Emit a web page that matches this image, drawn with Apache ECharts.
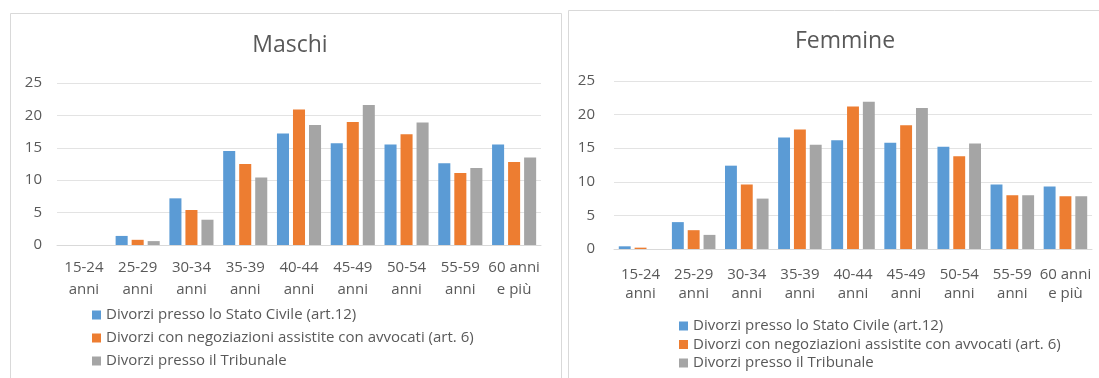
<!DOCTYPE html>
<html>
<head>
<meta charset="utf-8">
<script src="https://cdn.jsdelivr.net/npm/echarts@6/dist/echarts.min.js"></script>
<style>
  html, body { margin: 0; padding: 0; background: #fff; }
  #chart-container { width: 1099px; height: 378px; }
</style>
</head>
<body>
<div id="chart-container"></div>
<script>
const categories = [
  "15-24\nanni", "25-29\nanni", "30-34\nanni", "35-39\nanni", "40-44\nanni",
  "45-49\nanni", "50-54\nanni", "55-59\nanni", "60 anni\ne più"
];
const seriesNames = [
  "Divorzi presso lo Stato Civile (art.12)",
  "Divorzi con negoziazioni assistite con avvocati (art. 6)",
  "Divorzi presso il Tribunale"
];
const yTicks = [0, 5, 10, 15, 20, 25];

// Maschi
const maschiStatoCivile = [0, 1.4, 7.2, 14.5, 17.2, 15.7, 15.5, 12.6, 15.5];
const maschiNegoziazioni = [0, 0.8, 5.4, 12.5, 20.9, 19.0, 17.1, 11.1, 12.8];
const maschiTribunale = [0, 0.6, 3.9, 10.4, 18.5, 21.6, 18.9, 11.9, 13.5];

// Femmine
const femmineStatoCivile = [0.4, 4.0, 12.4, 16.6, 16.2, 15.8, 15.2, 9.6, 9.3];
const femmineNegoziazioni = [0.2, 2.8, 9.6, 17.8, 21.2, 18.4, 13.8, 8.0, 7.85];
const femmineTribunale = [0, 2.1, 7.5, 15.5, 21.9, 21.0, 15.7, 8.0, 7.85];

const colors = ["#5B9BD5", "#ED7D31", "#A5A5A5"];
const font = "Open Sans";
const textColor = "#595959";

(() => {
  var dom = document.getElementById("chart-container");
  var chart = echarts.init(dom, null, { renderer: "canvas" });

  const yAxisFor = (gridIndex, margin) => ({
    gridIndex: gridIndex,
    type: "value",
    min: yTicks[0],
    max: yTicks[yTicks.length - 1],
    interval: yTicks[1] - yTicks[0],
    axisLine: { show: false },
    axisTick: { show: false },
    axisLabel: { color: textColor, fontFamily: font, fontSize: 15, margin: margin },
    splitLine: { lineStyle: { color: "#E3E3E3", width: 1 } },
  });

  const xAxisFor = (gridIndex, margin, lineHeight) => ({
    gridIndex: gridIndex,
    type: "category",
    data: categories,
    axisLine: { lineStyle: { color: "#D9D9D9" } },
    axisTick: { show: false },
    axisLabel: {
      color: textColor, fontFamily: font, fontSize: 15,
      margin: margin, lineHeight: lineHeight, interval: 0,
    },
  });

  const barsFor = (values, idx, axisIndex) => ({
    name: seriesNames[idx],
    type: "bar",
    xAxisIndex: axisIndex,
    yAxisIndex: axisIndex,
    data: values,
    barWidth: "22.4%",
    barGap: "33%",
    itemStyle: { color: colors[idx] },
  });

  const legendFor = (left, top, gap) => ({
    orient: "vertical",
    left: left,
    top: top,
    padding: 0,
    itemWidth: 9,
    itemHeight: 9,
    itemGap: gap,
    icon: "rect",
    data: seriesNames,
    textStyle: { color: textColor, fontFamily: font, fontSize: 15, lineHeight: 18 },
  });

  const option = {
    backgroundColor: "#fff",
    animation: false,
    graphic: [
      { type: "rect", shape: { x: 10.5, y: 13.5, width: 551, height: 380 },
        style: { fill: "none", stroke: "#D9D9D9", lineWidth: 1 } },
      { type: "rect", shape: { x: 568.5, y: 10.5, width: 540, height: 380 },
        style: { fill: "none", stroke: "#D9D9D9", lineWidth: 1 } },
    ],
    title: [
      { text: "Maschi", left: 285, top: 29, textAlign: "center",
        textStyle: { color: textColor, fontFamily: font, fontSize: 23, fontWeight: "normal" } },
      { text: "Femmine", left: 840, top: 25, textAlign: "center",
        textStyle: { color: textColor, fontFamily: font, fontSize: 23, fontWeight: "normal" } },
    ],
    legend: [
      legendFor(92, 306, 5),
      legendFor(679, 317, 0.5),
    ],
    grid: [
      { left: 57, right: 558, top: 83, bottom: 133 },
      { left: 614, right: 7, top: 81, bottom: 129 },
    ],
    xAxis: [xAxisFor(0, 12, 22), xAxisFor(1, 16, 19)],
    yAxis: [yAxisFor(0, 15), yAxisFor(1, 19)],
    series: [
      barsFor(maschiStatoCivile, 0, 0),
      barsFor(maschiNegoziazioni, 1, 0),
      barsFor(maschiTribunale, 2, 0),
      barsFor(femmineStatoCivile, 0, 1),
      barsFor(femmineNegoziazioni, 1, 1),
      barsFor(femmineTribunale, 2, 1),
    ],
  };
  chart.setOption(option);
  window.addEventListener("resize", chart.resize);
})();
</script>
</body>
</html>
